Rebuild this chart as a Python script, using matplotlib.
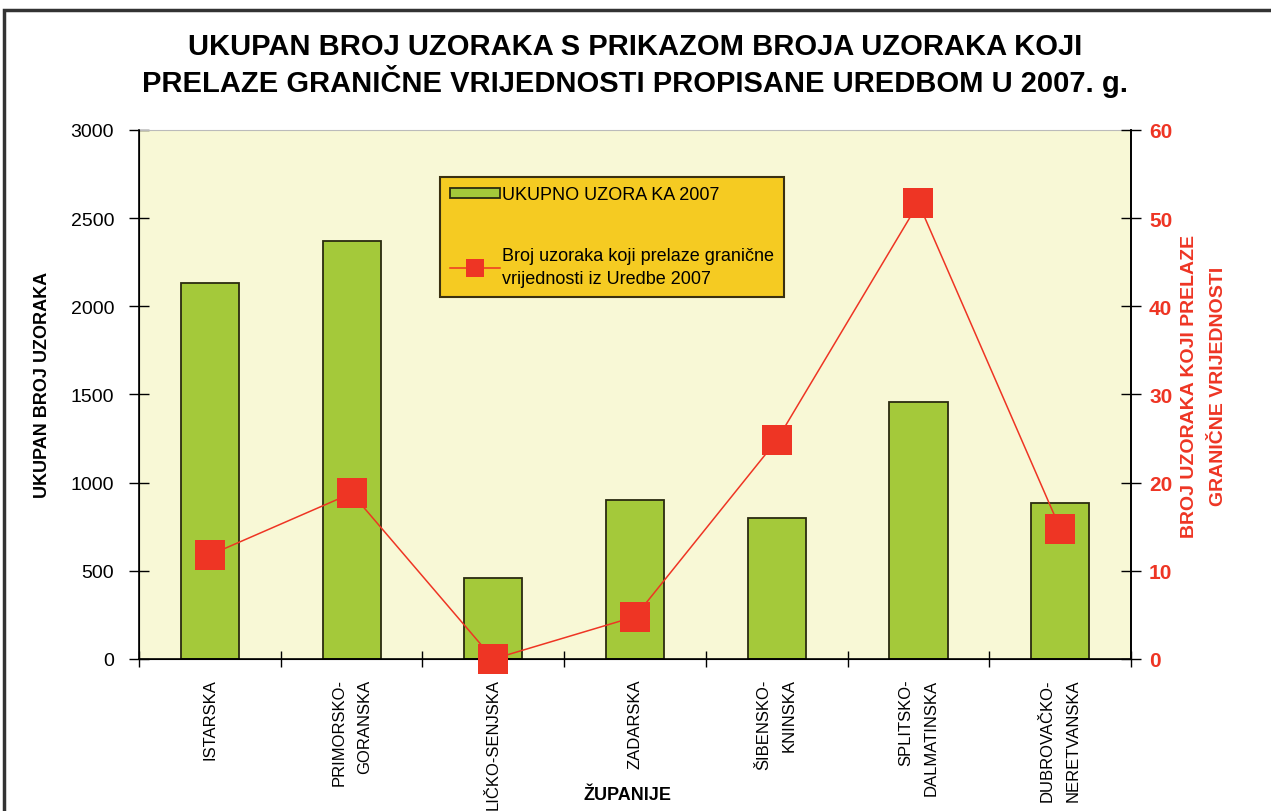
import numpy as np
import matplotlib
matplotlib.use("Agg")
import matplotlib.pyplot as plt
from matplotlib.patches import Rectangle

# data
zupanije = ["ISTARSKA", "PRIMORSKO-\nGORANSKA", "LIČKO-SENJSKA", "ZADARSKA",
            "ŠIBENSKO-\nKNINSKA", "SPLITSKO-\nDALMATINSKA", "DUBROVAČKO-\nNERETVANSKA"]
ukupno_2007 = [2135, 2373, 461, 899, 799, 1458, 882]
iznad_granice = [11.8, 18.8, 0, 4.8, 24.8, 51.7, 14.8]

plt.rcParams["font.family"] = ["Liberation Sans", "DejaVu Sans"]

fig = plt.figure(figsize=(12.71, 8.12), dpi=100)
ax = fig.add_axes([0.1094, 0.1872, 0.7805, 0.6515])
ax.set_facecolor("#F8F8D6")

x = np.arange(len(zupanije))
bars = ax.bar(x, ukupno_2007, width=0.41, color="#A4C93A", edgecolor="#2B2B10",
              linewidth=1.3, zorder=2, label="UKUPNO UZORA KA 2007")
ax.set_xlim(-0.5, len(zupanije) - 0.5)
ax.set_ylim(0, 3000)
ax.set_yticks(np.arange(0, 3001, 500))
ax.tick_params(axis="y", labelsize=14, direction="inout", length=14, width=1, pad=11)
ax.set_xticks(x)
ax.set_xticklabels(zupanije, rotation=90, fontsize=12, va="top", ha="center",
                   linespacing=1.85, multialignment="right")
ax.tick_params(axis="x", length=0, pad=14)
ax.set_xticks(np.arange(-0.5, len(zupanije), 1.0), minor=True)
ax.tick_params(axis="x", which="minor", length=12, direction="inout", width=1)
ax.set_ylabel("UKUPAN BROJ UZORAKA", fontsize=13, fontweight="bold", labelpad=14)
ax.yaxis.label.set_y(0.52)
ax.spines["top"].set_color("#BBBBBB")
ax.spines["top"].set_linewidth(0.8)
for s in ["left", "bottom", "right"]:
    ax.spines[s].set_linewidth(1.2)

fig.text(628 / 1271, 1 - 796 / 812, "ŽUPANIJE", fontsize=13, fontweight="bold",
         ha="center", va="center")

ax2 = ax.twinx()
line, = ax2.plot(x, iznad_granice, color="#EE3524", linewidth=1.1, marker="s",
                 markersize=21, markeredgewidth=0, markerfacecolor="#EE3524",
                 clip_on=False, zorder=3,
                 label="Broj uzoraka koji prelaze granične\nvrijednosti iz Uredbe 2007")
ax2.set_ylim(0, 60)
ax2.set_yticks(np.arange(0, 61, 10))
ax2.tick_params(axis="y", labelsize=15, labelcolor="#EE3524", direction="inout",
                length=14, width=1, pad=6)
for t in ax2.get_yticklabels():
    t.set_fontweight("bold")
ax2.set_ylabel("BROJ UZORAKA KOJI PRELAZE\nGRANIČNE VRIJEDNOSTI", fontsize=14,
               fontweight="bold", color="#EE3524", labelpad=6, linespacing=1.9)
ax2.yaxis.label.set_y(0.517)
ax2.spines["top"].set_visible(False)
ax2.spines["right"].set_linewidth(1.2)

leg = ax2.legend(handles=[bars, line], loc="upper left", bbox_to_anchor=(0.303, 0.912),
                 borderaxespad=0, fancybox=False, framealpha=1, facecolor="#F5CB22",
                 edgecolor="#3A3010", fontsize=13, labelspacing=2.4, handlelength=2.8,
                 handleheight=0.45, handletextpad=0.1, borderpad=0.55,
                 markerscale=0.6)
leg.get_frame().set_linewidth(1.5)
leg.get_texts()[1].set_linespacing(1.45)

fig.suptitle("UKUPAN BROJ UZORAKA S PRIKAZOM BROJA UZORAKA KOJI\n"
             "PRELAZE GRANIČNE VRIJEDNOSTI PROPISANE UREDBOM U 2007. g.",
             x=0.5, y=0.959, fontsize=21, fontweight="bold", linespacing=1.15)

# outer frame of the original sheet
fig.patches.append(Rectangle((0.003, -0.05), 1.1, 1.037, transform=fig.transFigure,
                             fill=False, edgecolor="#333333", linewidth=2.5))

fig.savefig("out.png", dpi=100)
